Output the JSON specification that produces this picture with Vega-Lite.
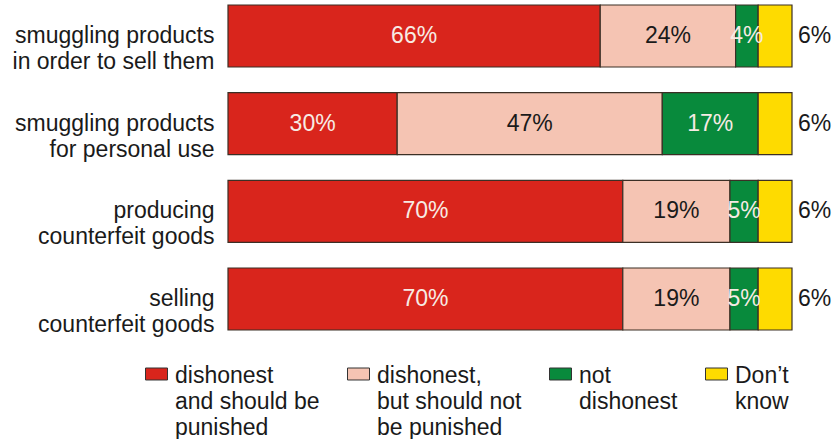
{
  "$schema": "https://vega.github.io/schema/vega-lite/v6.json",
  "width": 564,
  "height": 325,
  "autosize": {"type": "none"},
  "padding": {"left": 228, "top": 5, "right": 45, "bottom": 109},
  "background": "white",
  "config": {"view": {"stroke": null}, "font": "Liberation Sans"},
  "data": {
    "values": [
      {"activity": "smuggling products|in order to sell them", "response": "dishonest|and should be|punished", "order": 1, "value": 66},
      {"activity": "smuggling products|in order to sell them", "response": "dishonest,|but should not|be punished", "order": 2, "value": 24},
      {"activity": "smuggling products|in order to sell them", "response": "not|dishonest", "order": 3, "value": 4},
      {"activity": "smuggling products|in order to sell them", "response": "Don’t|know", "order": 4, "value": 6},
      {"activity": "smuggling products|for personal use", "response": "dishonest|and should be|punished", "order": 1, "value": 30},
      {"activity": "smuggling products|for personal use", "response": "dishonest,|but should not|be punished", "order": 2, "value": 47},
      {"activity": "smuggling products|for personal use", "response": "not|dishonest", "order": 3, "value": 17},
      {"activity": "smuggling products|for personal use", "response": "Don’t|know", "order": 4, "value": 6},
      {"activity": "producing|counterfeit goods", "response": "dishonest|and should be|punished", "order": 1, "value": 70},
      {"activity": "producing|counterfeit goods", "response": "dishonest,|but should not|be punished", "order": 2, "value": 19},
      {"activity": "producing|counterfeit goods", "response": "not|dishonest", "order": 3, "value": 5},
      {"activity": "producing|counterfeit goods", "response": "Don’t|know", "order": 4, "value": 6},
      {"activity": "selling|counterfeit goods", "response": "dishonest|and should be|punished", "order": 1, "value": 70},
      {"activity": "selling|counterfeit goods", "response": "dishonest,|but should not|be punished", "order": 2, "value": 19},
      {"activity": "selling|counterfeit goods", "response": "not|dishonest", "order": 3, "value": 5},
      {"activity": "selling|counterfeit goods", "response": "Don’t|know", "order": 4, "value": 6}
    ]
  },
  "transform": [
    {"stack": "value", "groupby": ["activity"], "sort": [{"field": "order", "order": "ascending"}], "as": ["v0", "v1"]},
    {"calculate": "(datum.v0 + datum.v1) / 2", "as": "mid"},
    {"calculate": "datum.value + '%'", "as": "label"}
  ],
  "encoding": {
    "y": {
      "field": "activity",
      "type": "nominal",
      "sort": null,
      "scale": {"paddingInner": 0.293, "paddingOuter": 0},
      "axis": {
        "title": null,
        "ticks": false,
        "domain": false,
        "labelFontSize": 23,
        "labelColor": "#1a1a1a",
        "labelPadding": 14,
        "labelLimit": 300,
        "labelLineHeight": 26,
        "labelExpr": "split(datum.label, '|')"
      }
    }
  },
  "layer": [
    {
      "mark": {"type": "bar", "stroke": "#3b2f25", "strokeWidth": 1.2},
      "encoding": {
        "x": {"field": "v0", "type": "quantitative", "scale": {"domain": [0, 100], "nice": false}, "axis": null},
        "x2": {"field": "v1"},
        "color": {
          "field": "response",
          "type": "nominal",
          "sort": null,
          "scale": {
            "domain": ["dishonest|and should be|punished", "dishonest,|but should not|be punished", "not|dishonest", "Don’t|know"],
            "range": ["#d9251c", "#f5c4b3", "#088a3c", "#fedb00"]
          },
          "legend": {
            "title": null,
            "orient": "none",
            "legendX": -83,
            "legendY": 361,
            "direction": "horizontal",
            "columns": 4,
            "columnPadding": 25,
            "symbolType": "M-1,-0.545H1V0.545H-1Z",
            "symbolSize": 484,
            "symbolStrokeColor": "#333333",
            "symbolStrokeWidth": 1,
            "symbolOpacity": 1,
            "labelFontSize": 23,
            "labelColor": "#1a1a1a",
            "labelLimit": 250,
            "labelOffset": 7,
            "labelBaseline": "alphabetic",
            "labelExpr": "split(datum.label + (length(split(datum.label, '|')) < 3 ? '| ' : ''), '|')",
            "encode": {
              "symbols": {"update": {"y": {"value": 8}}},
              "labels": {"update": {"y": {"value": 8}, "dy": {"value": 9}, "lineHeight": {"value": 26}}}
            }
          }
        }
      }
    },
    {
      "transform": [{"filter": "datum.order < 4"}],
      "mark": {"type": "text", "fontSize": 23},
      "encoding": {
        "x": {"field": "mid", "type": "quantitative"},
        "text": {"field": "label"},
        "color": {"condition": {"test": "datum.order === 2", "value": "#1a1a1a"}, "value": "#f7ebe4"}
      }
    },
    {
      "transform": [{"filter": "datum.order === 4"}],
      "mark": {"type": "text", "fontSize": 23, "align": "left", "dx": 6, "color": "#1a1a1a"},
      "encoding": {
        "x": {"field": "v1", "type": "quantitative"},
        "text": {"field": "label"}
      }
    }
  ]
}
